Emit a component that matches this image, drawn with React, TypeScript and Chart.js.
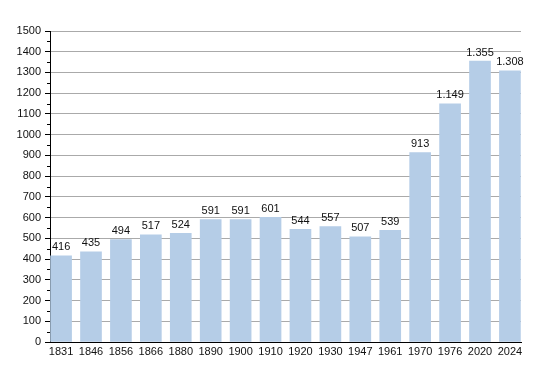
import React, { useEffect, useRef } from "react";
import { Chart, registerables } from "chart.js";

Chart.register(...registerables);

const years = ["1831","1846","1856","1866","1880","1890","1900","1910","1920","1930","1947","1961","1970","1976","2020","2024"];
const population = [416,435,494,517,524,591,591,601,544,557,507,539,913,1149,1355,1308];

const fmt = (v: number) => String(v).replace(/\B(?=(\d{3})+(?!\d))/g, ".");

const labelPlugin = {
  id: "barLabels",
  afterDraw(chart: any) {
    const ctx = chart.ctx;
    const y = chart.scales.y;
    const left = chart.chartArea.left;
    ctx.save();
    ctx.strokeStyle = "#000";
    ctx.lineWidth = 1;
    ctx.beginPath();
    for (let v = 50; v < 1500; v += 100) {
      const py = Math.round(y.getPixelForValue(v)) + 0.5;
      ctx.moveTo(left - 3, py);
      ctx.lineTo(left, py);
    }
    ctx.stroke();
    const meta = chart.getDatasetMeta(0);
    ctx.font = "11px 'Liberation Sans', Arial, sans-serif";
    ctx.fillStyle = "#111";
    ctx.textAlign = "center";
    ctx.textBaseline = "bottom";
    meta.data.forEach((el: any, i: number) => {
      ctx.fillText(fmt(population[i]), el.x, el.y - 3);
    });
    ctx.restore();
  },
};

export default function App() {
  const ref = useRef<HTMLCanvasElement>(null);
  useEffect(() => {
    const chart = new Chart(ref.current!, {
      type: "bar",
      data: {
        datasets: [
          {
            data: population.map((y, i) => ({ x: i, y })),
            backgroundColor: "#b5cde7",
            borderWidth: 0,
            barThickness: 21,
          },
        ],
      },
      options: {
        animation: false,
        responsive: false,
        maintainAspectRatio: false,
        layout: { padding: { top: 31, right: 29, left: 0, bottom: 0 } },
        plugins: { legend: { display: false }, tooltip: { enabled: false } },
        scales: {
          x: {
            type: "linear",
            offset: false,
            min: -0.37,
            max: 15.37,
            afterBuildTicks: (s: any) => {
              s.ticks = years.map((_, i) => ({ value: i }));
            },
            afterFit: (s: any) => {
              s.height = 31;
            },
            ticks: {
              autoSkip: false,
              maxRotation: 0,
              padding: 3,
              color: "#111",
              font: { size: 11, family: "'Liberation Sans', Arial, sans-serif" },
              callback: (v: any) => years[v] ?? "",
            },
            grid: { display: false, drawTicks: false },
            border: { display: true, color: "#000", width: 1 },
          },
          y: {
            min: 0,
            max: 1500,
            afterBuildTicks: (s: any) => {
              const t = [];
              for (let v = 0; v <= 1500; v += 50) t.push({ value: v });
              s.ticks = t;
            },
            afterFit: (s: any) => {
              s.width = 50;
            },
            ticks: {
              padding: 4,
              color: "#111",
              font: { size: 11, family: "'Liberation Sans', Arial, sans-serif" },
              callback: (v: any) => (v % 100 === 0 ? String(v) : ""),
            },
            grid: {
              color: (c: any) => (c.tick && c.tick.value % 100 === 0 ? "#aaaaaa" : "#dcdcdc"),
              tickColor: (c: any) => (c.tick && c.tick.value % 100 === 0 ? "#000" : "rgba(0,0,0,0)"),
              tickLength: 5,
              lineWidth: 1,
            } as any,
            border: { display: true, color: "#000", width: 1 },
          },
        },
      },
      plugins: [labelPlugin],
    } as any);
    return () => chart.destroy();
  }, []);
  return (
    <div style={{ position: "fixed", left: 0, top: 0, width: 550, height: 373, background: "#fff" }}>
      <canvas ref={ref} width={550} height={373} style={{ display: "block" }} />
    </div>
  );
}
